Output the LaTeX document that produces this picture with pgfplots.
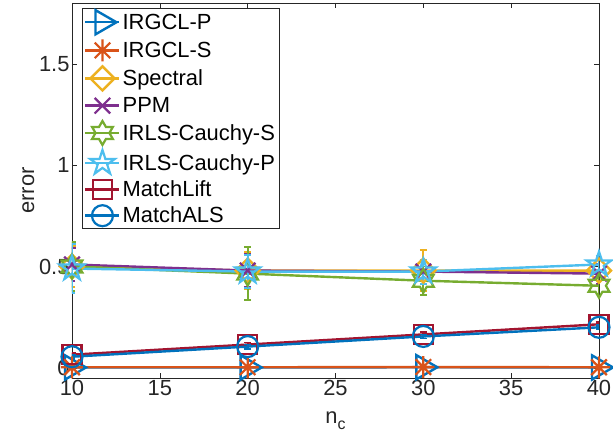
\documentclass[border=0pt]{standalone}
\usepackage{fontspec}
\setmainfont{Liberation Sans}
\usepackage{pgfplots}
\pgfplotsset{compat=1.18}
\definecolor{c1}{rgb}{0,0.447,0.741}
\definecolor{c2}{rgb}{0.850,0.325,0.098}
\definecolor{c3}{rgb}{0.929,0.694,0.125}
\definecolor{c4}{rgb}{0.494,0.184,0.556}
\definecolor{c5}{rgb}{0.466,0.674,0.188}
\definecolor{c6}{rgb}{0.301,0.745,0.933}
\definecolor{c7}{rgb}{0.635,0.078,0.184}
\definecolor{axgray}{rgb}{0.15,0.15,0.15}
% matlab style markers
\pgfdeclareplotmark{mlast}{%
  \pgfpathmoveto{\pgfqpoint{-\pgfplotmarksize}{0pt}}\pgfpathlineto{\pgfqpoint{\pgfplotmarksize}{0pt}}%
  \pgfpathmoveto{\pgfqpoint{0pt}{-\pgfplotmarksize}}\pgfpathlineto{\pgfqpoint{0pt}{\pgfplotmarksize}}%
  \pgfpathmoveto{\pgfpointpolar{45}{\pgfplotmarksize}}\pgfpathlineto{\pgfpointpolar{225}{\pgfplotmarksize}}%
  \pgfpathmoveto{\pgfpointpolar{135}{\pgfplotmarksize}}\pgfpathlineto{\pgfpointpolar{315}{\pgfplotmarksize}}%
  \pgfusepathqstroke}
\pgfdeclareplotmark{pentagram}{%
  \pgfpathmoveto{\pgfpointpolar{90}{\pgfplotmarksize}}%
  \pgfpathlineto{\pgfpointpolar{126}{0.382*\pgfplotmarksize}}%
  \pgfpathlineto{\pgfpointpolar{162}{\pgfplotmarksize}}%
  \pgfpathlineto{\pgfpointpolar{198}{0.382*\pgfplotmarksize}}%
  \pgfpathlineto{\pgfpointpolar{234}{\pgfplotmarksize}}%
  \pgfpathlineto{\pgfpointpolar{270}{0.382*\pgfplotmarksize}}%
  \pgfpathlineto{\pgfpointpolar{306}{\pgfplotmarksize}}%
  \pgfpathlineto{\pgfpointpolar{342}{0.382*\pgfplotmarksize}}%
  \pgfpathlineto{\pgfpointpolar{18}{\pgfplotmarksize}}%
  \pgfpathlineto{\pgfpointpolar{54}{0.382*\pgfplotmarksize}}%
  \pgfpathclose\pgfusepathqstroke}
\pgfdeclareplotmark{hexagram}{%
  \pgfpathmoveto{\pgfpointpolar{90}{\pgfplotmarksize}}%
  \pgfpathlineto{\pgfpointpolar{120}{0.577*\pgfplotmarksize}}%
  \pgfpathlineto{\pgfpointpolar{150}{\pgfplotmarksize}}%
  \pgfpathlineto{\pgfpointpolar{180}{0.577*\pgfplotmarksize}}%
  \pgfpathlineto{\pgfpointpolar{210}{\pgfplotmarksize}}%
  \pgfpathlineto{\pgfpointpolar{240}{0.577*\pgfplotmarksize}}%
  \pgfpathlineto{\pgfpointpolar{270}{\pgfplotmarksize}}%
  \pgfpathlineto{\pgfpointpolar{300}{0.577*\pgfplotmarksize}}%
  \pgfpathlineto{\pgfpointpolar{330}{\pgfplotmarksize}}%
  \pgfpathlineto{\pgfpointpolar{0}{0.577*\pgfplotmarksize}}%
  \pgfpathlineto{\pgfpointpolar{30}{\pgfplotmarksize}}%
  \pgfpathlineto{\pgfpointpolar{60}{0.577*\pgfplotmarksize}}%
  \pgfpathclose\pgfusepathqstroke}
\pgfplotsset{
  ml/.style={line width=2.4bp, mark size=10bp, mark options={solid,fill=none,line width=2.2bp},
    error bars/y dir=both, error bars/y explicit,
    error bars/error bar style={line width=1.8bp},
    error bars/error mark options={rotate=90,mark size=3.5bp,line width=1.8bp}},
}
\begin{document}
\begin{tikzpicture}
\useasboundingbox (-72bp,-64bp) rectangle (541bp,378bp);
\begin{axis}[
  at={(0,0)}, anchor=south west,
  scale only axis, width=527bp, height=375bp,
  xmin=10, xmax=40, ymin=-0.05, ymax=1.8,
  xtick={10,15,...,40}, ytick={0,0.5,1,1.5},
  yticklabels={0,0.5,1,1.5},
  tick align=inside, major tick length=5bp,
  axis line style={axgray,line width=0.6bp}, tick style={axgray,line width=0.6bp},
  ticklabel style={font=\fontsize{22}{26}\selectfont, text=axgray},
  xticklabel style={yshift=1bp}, yticklabel style={xshift=1bp},
  /pgf/number format/assume math mode=true,
  xlabel={n\raisebox{-6bp}{\fontsize{16}{18}\selectfont c}}, ylabel={error},
  label style={font=\fontsize{22}{26}\selectfont, text=axgray},
  xlabel style={at={(axis description cs:0.5,-0.115)},anchor=center},
  ylabel style={at={(axis description cs:-0.083,0.5)},anchor=center},
  legend cell align=left,
  legend style={at={(axis description cs:0.019,0.987)}, anchor=north west,
    draw=axgray, line width=0.5bp, fill=white, font=\fontsize{22}{26}\selectfont,
    inner xsep=2bp, inner ysep=2bp, row sep=5bp},
  legend image code/.code={\draw[mark repeat=2,mark phase=2] plot coordinates {(0bp,0bp)(17bp,0bp)(34bp,0bp)};},
]
\addplot[ml, c1, mark=triangle, mark options={rotate=-90}, mark size=14bp] coordinates
  {(10,0.002)+-(0,0)(20,0.002)+-(0,0)(30,0.003)+-(0,0)(40,0.002)+-(0,0)};
\addlegendentry{IRGCL-P}
\addplot[ml, c2, mark=mlast, mark size=11bp] coordinates
  {(10,0.003)+-(0,0)(20,0.003)+-(0,0)(30,0.004)+-(0,0)(40,0.003)+-(0,0)};
\addlegendentry{IRGCL-S}
\addplot[ml, c3, mark=square, mark options={rotate=45}, mark size=8.5bp] coordinates
  {(10,0.50)+-(0,0.10)(20,0.48)+-(0,0.09)(30,0.48)+-(0,0.10)(40,0.48)+-(0,0.05)};
\addlegendentry{Spectral}
\addplot[ml, c4, mark=x, mark size=11bp] coordinates
  {(10,0.51)+-(0,0.08)(20,0.48)+-(0,0.08)(30,0.475)+-(0,0.06)(40,0.465)+-(0,0.05)};
\addlegendentry{PPM}
\addplot[ml, c5, mark=hexagram, mark size=12bp] coordinates
  {(10,0.50)+-(0,0.12)(20,0.465)+-(0,0.13)(30,0.43)+-(0,0.07)(40,0.405)+-(0,0.04)};
\addlegendentry{IRLS-Cauchy-S}
\addplot[ml, c6, mark=pentagram, mark size=13bp] coordinates
  {(10,0.49)+-(0,0.12)(20,0.475)+-(0,0.08)(30,0.475)+-(0,0.06)(40,0.51)+-(0,0.04)};
\addlegendentry{IRLS-Cauchy-P}
\addplot[ml, c7, mark=square, mark size=9.5bp] coordinates
  {(10,0.065)+-(0,0.01)(20,0.115)+-(0,0.01)(30,0.165)+-(0,0.01)(40,0.215)+-(0,0.01)};
\addlegendentry{MatchLift}
\addplot[ml, c1, mark=o, mark size=10.5bp] coordinates
  {(10,0.055)+-(0,0.01)(20,0.105)+-(0,0.01)(30,0.155)+-(0,0.01)(40,0.20)+-(0,0.01)};
\addlegendentry{MatchALS}
\end{axis}
\end{tikzpicture}
\end{document}
